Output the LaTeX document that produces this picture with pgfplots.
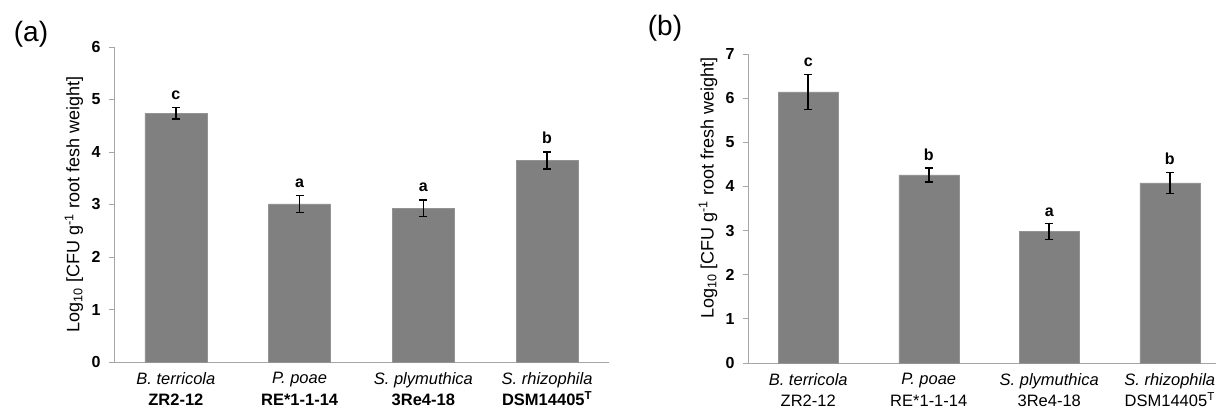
\documentclass[border=0pt]{standalone}
\usepackage{fontspec}
\setmainfont{Liberation Sans}
\usepackage{pgfplots}
\usepackage{pgfplotstable}
\pgfplotsset{compat=1.18}
\definecolor{barg}{HTML}{808080}
\definecolor{axg}{HTML}{A6A6A6}

\pgfplotstableread{
x y err lab
0 4.74 0.11 c
1 3.01 0.16 a
2 2.93 0.16 a
3 3.84 0.16 b
}\dataA
\pgfplotstableread{
x y err lab
0 6.14 0.40 c
1 4.26 0.16 b
2 2.98 0.18 a
3 4.08 0.24 b
}\dataB

\pgfplotsset{
  mybar/.style={
    scale only axis,
    axis lines*=left,
    axis line style={draw=axg, line width=0.9bp},
    ymin=0,
    xmin=-0.5, xmax=3.5,
    xtick={0,1,2,3},
    xtick style={draw=none},
    ytick style={draw=axg, line width=0.9bp},
    tick align=outside,
    major tick length=5bp,
    /pgf/number format/assume math mode=true,
    yticklabel style={font=\bfseries\fontsize{16bp}{18bp}\selectfont, xshift=-5bp},
    xticklabel style={align=center, font=\fontsize{16.5bp}{21.5bp}\selectfont, yshift=-2bp},
    ylabel style={font=\fontsize{18bp}{20bp}\selectfont},
    bar width=62bp,
    clip=false,
  },
  errbars/.style={
    ybar, fill=barg, draw=barg!85,
    error bars/.cd, y dir=both, y explicit,
    error bar style={line width=1.6bp, black},
    error mark options={rotate=90, mark size=4bp, line width=1.6bp, black},
  },
}

\begin{document}
\begin{tikzpicture}
% Panel (a)
\begin{axis}[mybar,
  at={(114bp,52bp)}, anchor=south west,
  width=495bp, height=315bp,
  ymax=6, ytick={0,1,2,3,4,5,6},
  xticklabels={{\textit{B. terricola}\\\textbf{ZR2-12}},
               {\textit{P. poae}\\\textbf{RE*1-1-14}},
               {\textit{S. plymuthica}\\\textbf{3Re4-18}},
               {\textit{S. rhizophila}\\\textbf{DSM14405\textsuperscript{T}}}},
  ylabel={Log\textsubscript{10} [CFU g\textsuperscript{-1} root fesh weight]},
  ylabel style={at={(rel axis cs:-0.081,0.5)}, anchor=center},
]
\addplot[errbars] table[x=x, y=y, y error=err] {\dataA};
\addplot[draw=none, mark=none, nodes near coords, point meta=explicit symbolic,
  nodes near coords style={anchor=south, inner sep=0pt, yshift=8bp,
    font=\bfseries\fontsize{16bp}{18bp}\selectfont}]
  table[x=x, y expr=\thisrow{y}+\thisrow{err}, meta=lab] {\dataA};
\end{axis}
\node[font=\fontsize{28bp}{32bp}\selectfont] at (31bp,380bp) {(a)};

% Panel (b)
\begin{axis}[mybar,
  at={(748bp,51bp)}, anchor=south west,
  width=482bp, height=309bp,
  ymax=7, ytick={0,1,2,3,4,5,6,7},
  bar width=60bp,
  xticklabels={{\textit{B. terricola}\\ZR2-12},
               {\textit{P. poae}\\RE*1-1-14},
               {\textit{S. plymuthica}\\3Re4-18},
               {\textit{S. rhizophila}\\DSM14405\textsuperscript{T}}},
  ylabel={Log\textsubscript{10} [CFU g\textsuperscript{-1} root fresh weight]},
  ylabel style={at={(rel axis cs:-0.083,0.566)}, anchor=center},
]
\addplot[errbars] table[x=x, y=y, y error=err] {\dataB};
\addplot[draw=none, mark=none, nodes near coords, point meta=explicit symbolic,
  nodes near coords style={anchor=south, inner sep=0pt, yshift=7bp,
    font=\bfseries\fontsize{16bp}{18bp}\selectfont}]
  table[x=x, y expr=\thisrow{y}+\thisrow{err}, meta=lab] {\dataB};
\end{axis}
\node[font=\fontsize{28bp}{32bp}\selectfont] at (665bp,386bp) {(b)};

\pgfresetboundingbox
\useasboundingbox (0,0) rectangle (1216bp,414bp);
\end{tikzpicture}
\end{document}
